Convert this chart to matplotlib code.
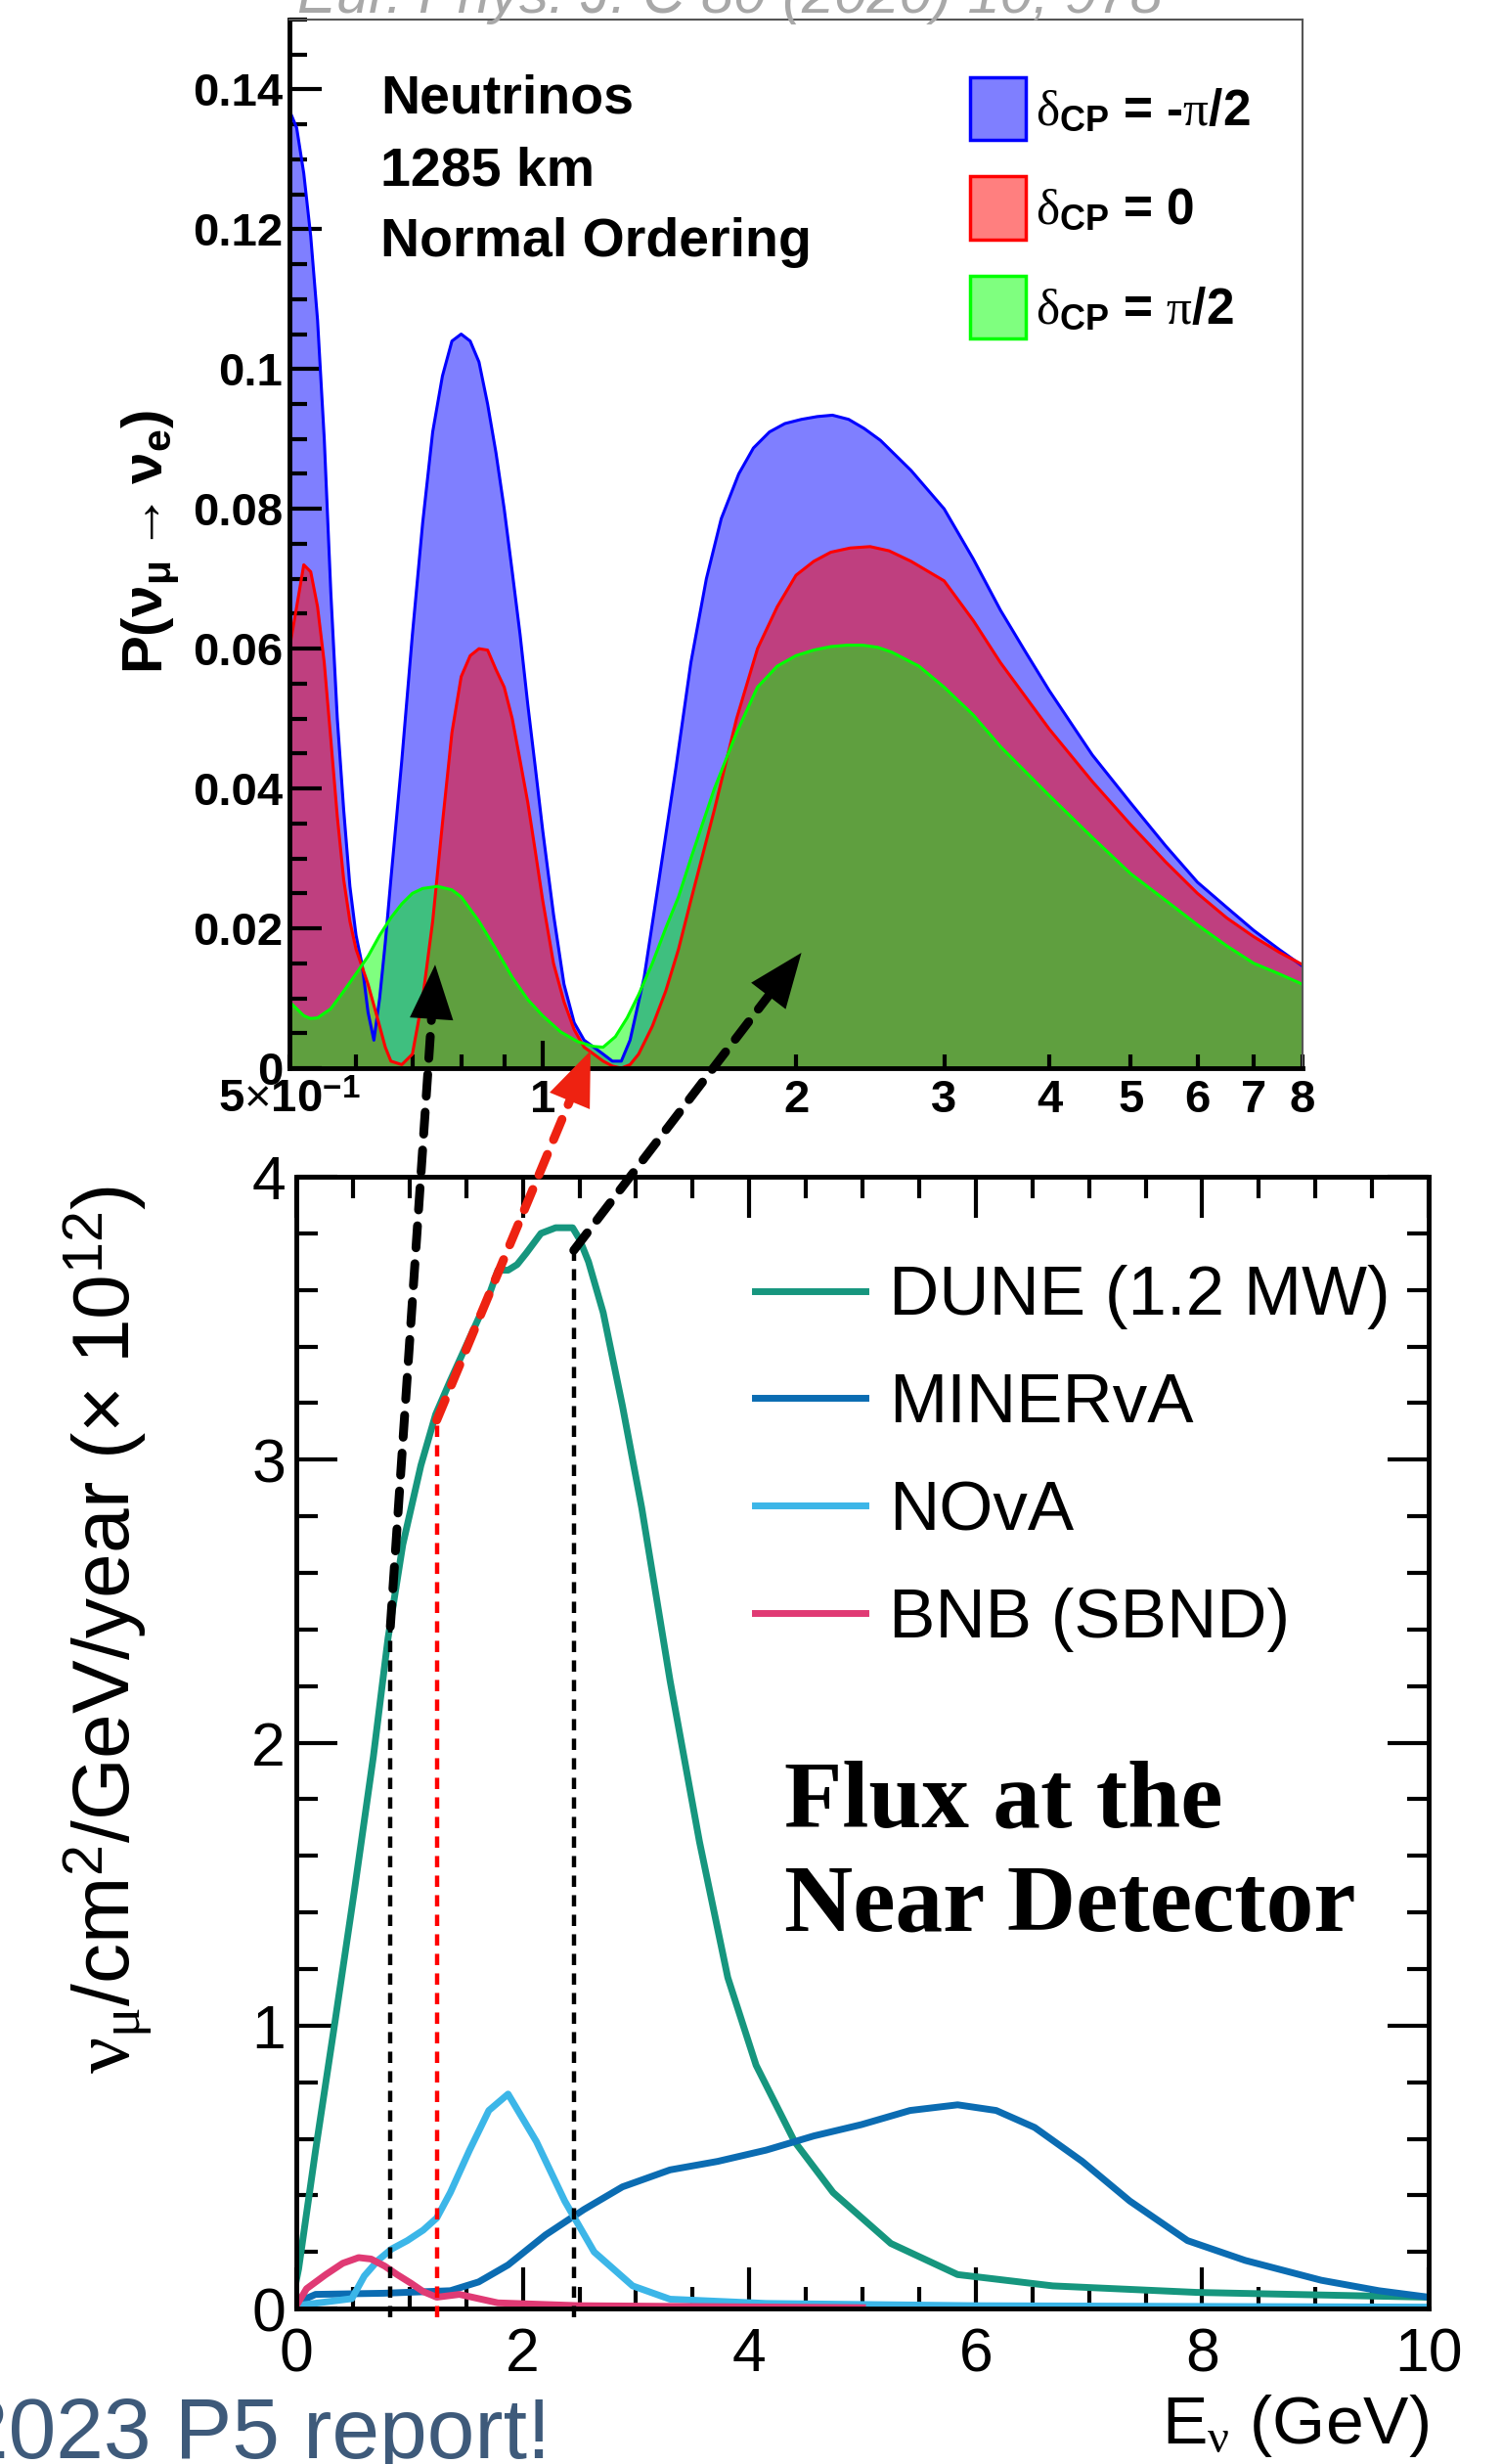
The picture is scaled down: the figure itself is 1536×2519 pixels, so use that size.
import numpy as np
import matplotlib.pyplot as plt
from matplotlib.patches import Patch, ConnectionPatch

plt.rcParams['font.family'] = ['Liberation Sans', 'DejaVu Sans']
plt.rcParams['mathtext.fontset'] = 'custom'
plt.rcParams['mathtext.rm'] = 'Liberation Sans'
plt.rcParams['mathtext.it'] = 'Liberation Serif'
plt.rcParams['mathtext.bf'] = 'Liberation Sans:bold'

# ---- top panel: appearance probability vs energy ----
E_blue = [0.50, 0.51, 0.52, 0.53, 0.54, 0.55, 0.56, 0.57, 0.58, 0.59, 0.60, 0.61, 0.62, 0.63,
          0.64, 0.65, 0.66, 0.68, 0.70, 0.72, 0.74, 0.76, 0.78, 0.80, 0.82, 0.84, 0.86, 0.88,
          0.90, 0.92, 0.94, 0.96, 0.98, 1.00, 1.03, 1.06, 1.09, 1.12, 1.15, 1.18, 1.21, 1.24,
          1.27, 1.32, 1.375, 1.44, 1.50, 1.565, 1.63, 1.71, 1.78, 1.86, 1.94, 2.03, 2.12, 2.21,
          2.31, 2.41, 2.52, 2.74, 3.0, 3.25, 3.5, 3.75, 4.0, 4.5, 5.0, 5.5, 6.0, 6.5, 7.0, 7.5, 8.0]
P_blue = [0.137, 0.1345, 0.128, 0.119, 0.107, 0.090, 0.068, 0.050, 0.037, 0.026, 0.019, 0.0148, 0.008, 0.004,
          0.010, 0.018, 0.027, 0.044, 0.062, 0.078, 0.091, 0.099, 0.104, 0.105, 0.104, 0.101, 0.095, 0.088,
          0.080, 0.071, 0.062, 0.052, 0.043, 0.034, 0.022, 0.012, 0.0065, 0.004, 0.003, 0.002, 0.001, 0.001,
          0.004, 0.013, 0.027, 0.043, 0.058, 0.070, 0.0786, 0.085, 0.0887, 0.091, 0.0922, 0.0928, 0.0932, 0.0934,
          0.0928, 0.0915, 0.0898, 0.0855, 0.0800, 0.0728, 0.0655, 0.0595, 0.0540, 0.0448, 0.0379, 0.0318, 0.0266,
          0.0230, 0.0197, 0.0170, 0.0146]

E_red = [0.50, 0.51, 0.52, 0.53, 0.54, 0.55, 0.56, 0.57, 0.58, 0.59, 0.60, 0.61, 0.62, 0.63,
         0.64, 0.65, 0.66, 0.68, 0.70, 0.72, 0.74, 0.76, 0.78, 0.80, 0.82, 0.84, 0.86, 0.88,
         0.90, 0.92, 0.94, 0.96, 0.98, 1.00, 1.03, 1.06, 1.09, 1.12, 1.15, 1.18, 1.21, 1.24,
         1.27, 1.30, 1.35, 1.40, 1.45, 1.50, 1.60, 1.70, 1.80, 1.90, 2.0, 2.1, 2.2, 2.32, 2.45, 2.58,
         2.74, 3.0, 3.25, 3.5, 4.0, 4.5, 5.0, 5.5, 6.0, 6.5, 7.0, 7.5, 8.0]
P_red = [0.060, 0.066, 0.072, 0.071, 0.066, 0.058, 0.047, 0.036, 0.027, 0.021, 0.017, 0.0145, 0.012, 0.009,
         0.006, 0.003, 0.001, 0.0005, 0.002, 0.010, 0.021, 0.035, 0.048, 0.056, 0.059, 0.060, 0.0598, 0.057,
         0.0545, 0.050, 0.044, 0.038, 0.031, 0.024, 0.015, 0.0095, 0.0055, 0.003, 0.002, 0.001, 0.0003, 0.0,
         0.0005, 0.002, 0.006, 0.011, 0.017, 0.024, 0.037, 0.050, 0.060, 0.066, 0.0705, 0.0725, 0.0738, 0.0744,
         0.0746, 0.0740, 0.0725, 0.0697, 0.064, 0.058, 0.0485, 0.041, 0.0348, 0.0295, 0.025, 0.0215, 0.0188,
         0.0166, 0.0148]

E_green = [0.50, 0.51, 0.52, 0.53, 0.54, 0.56, 0.58, 0.60, 0.62, 0.64, 0.66, 0.68, 0.70, 0.72,
           0.75, 0.78, 0.80, 0.84, 0.88, 0.92, 0.96, 1.00, 1.05, 1.10, 1.15, 1.18, 1.22, 1.26,
           1.30, 1.35, 1.40, 1.45, 1.50, 1.60, 1.70, 1.80, 1.90, 2.0, 2.1, 2.2, 2.3, 2.4, 2.5, 2.6, 2.8,
           3.0, 3.25, 3.5, 4.0, 4.5, 5.0, 5.5, 6.0, 6.5, 7.0, 7.5, 8.0]
P_green = [0.0095, 0.0085, 0.0075, 0.0071, 0.0072, 0.0085, 0.011, 0.0135, 0.016, 0.019, 0.0215, 0.0235, 0.025, 0.0257,
           0.026, 0.0255, 0.0245, 0.021, 0.017, 0.013, 0.0098, 0.0075, 0.0052, 0.0038, 0.0031, 0.0030, 0.0045, 0.0072,
           0.0105, 0.015, 0.020, 0.0245, 0.030, 0.040, 0.048, 0.0545, 0.0575, 0.059, 0.0598, 0.0603, 0.0605, 0.0605,
           0.0602, 0.0595, 0.0575, 0.0545, 0.0505, 0.046, 0.039, 0.033, 0.0278, 0.024, 0.0205, 0.0175, 0.015, 0.0135, 0.012]

delta_labels = [r'$\delta_{\mathbf{CP}}$ = -$\pi$/2', r'$\delta_{\mathbf{CP}}$ = 0', r'$\delta_{\mathbf{CP}}$ = $\pi$/2']
top_xticks = [0.5, 1, 2, 3, 4, 5, 6, 7, 8]
top_xticklabels = [r'5$\times$10$^{\mathbf{-1}}$', '1', '2', '3', '4', '5', '6', '7', '8']

# ---- bottom panel: muon neutrino flux at the near detectors ----
E_dune = [0.0, 0.02, 0.17, 0.34, 0.51, 0.68, 0.81, 0.94, 1.10, 1.23, 1.36, 1.53, 1.70, 1.78, 1.87,
          1.95, 2.03, 2.16, 2.29, 2.44, 2.50, 2.58, 2.71, 2.88, 3.05, 3.30, 3.56, 3.81, 4.06, 4.40,
          4.74, 5.25, 5.84, 6.68, 7.95, 10.0]
F_dune = [0.10, 0.14, 0.56, 1.01, 1.47, 1.95, 2.37, 2.70, 2.98, 3.16, 3.28, 3.43, 3.58, 3.67, 3.67,
          3.69, 3.73, 3.80, 3.82, 3.82, 3.78, 3.70, 3.52, 3.19, 2.83, 2.22, 1.65, 1.17, 0.86, 0.59,
          0.41, 0.23, 0.12, 0.08, 0.057, 0.04]

E_minerva = [0.0, 0.17, 0.77, 1.36, 1.61, 1.87, 2.20, 2.54, 2.88, 3.30, 3.72, 4.15, 4.57, 4.99,
             5.42, 5.84, 6.18, 6.52, 6.94, 7.36, 7.87, 8.38, 9.05, 9.56, 10.0]
F_minerva = [0.02, 0.05, 0.054, 0.063, 0.094, 0.154, 0.26, 0.35, 0.43, 0.49, 0.52, 0.56, 0.61, 0.65,
             0.70, 0.72, 0.70, 0.64, 0.52, 0.38, 0.24, 0.17, 0.10, 0.063, 0.04]

E_nova = [0.0, 0.49, 0.60, 0.72, 0.84, 0.98, 1.12, 1.24, 1.36, 1.53, 1.70, 1.87, 2.12, 2.37, 2.63,
          2.97, 3.30, 4.15, 6.0, 10.0]
F_nova = [0.01, 0.035, 0.115, 0.17, 0.21, 0.24, 0.277, 0.32, 0.41, 0.56, 0.70, 0.758, 0.59, 0.38, 0.20,
          0.08, 0.033, 0.018, 0.01, 0.005]

E_bnb = [0.0, 0.09, 0.26, 0.41, 0.55, 0.66, 0.78, 0.89, 1.01, 1.12, 1.24, 1.44, 1.78, 2.5, 5.0]
F_bnb = [0.01, 0.07, 0.12, 0.16, 0.18, 0.175, 0.15, 0.12, 0.09, 0.06, 0.04, 0.05, 0.02, 0.01, 0.003]

flux_names = ['DUNE (1.2 MW)', 'MINERvA', 'NOvA', 'BNB (SBND)']
flux_colors = ['#16967e', '#0b6cb2', '#3cb6e8', '#e03a74']

# energies picked out in the flux plot and where the arrows land on the probability plot
mark_E = [0.83, 1.24, 2.45]
mark_F = [2.41, 3.14, 3.74]
tip_E = [0.745, 1.14, 2.03]
tip_P = [0.0148, 0.0025, 0.0165]
mark_colors = ['black', '#ee2211', 'black']
vline_colors = ['black', '#ff0000', 'black']

fig = plt.figure(figsize=(15.36, 25.19), dpi=100)
ax_top = fig.add_axes([0.1927, 0.5665, 0.6745, 0.4256])
ax_bot = fig.add_axes([0.1973, 0.0631, 0.7539, 0.4593])

# ---------------- top panel ----------------
for E, P, c in [(E_blue, P_blue, '#0000ff'), (E_red, P_red, '#ff0000'), (E_green, P_green, '#00ff00')]:
    ax_top.fill_between(E, 0, P, color=c, alpha=0.5, lw=0)
    ax_top.plot(E, P, color=c, lw=2.2)

ax_top.set_xscale('log')
ax_top.set_xlim(0.5, 8)
ax_top.set_ylim(0, 0.15)
for s in ['left', 'bottom']:
    ax_top.spines[s].set_linewidth(3.5)
for s in ['top', 'right']:
    ax_top.spines[s].set_linewidth(1.5)
    ax_top.spines[s].set_color('#555555')

ax_top.set_yticks(np.arange(0, 0.141, 0.02))
ax_top.set_yticklabels(['0', '0.02', '0.04', '0.06', '0.08', '0.1', '0.12', '0.14'])
ax_top.set_yticks(np.arange(0, 0.1501, 0.005), minor=True)
ax_top.set_xticks(top_xticks)
ax_top.set_xticklabels(top_xticklabels)
ax_top.set_xticks([0.6, 0.7, 0.8, 0.9], minor=True)
ax_top.xaxis.set_minor_formatter(plt.NullFormatter())
ax_top.tick_params(axis='y', which='major', direction='in', length=24, width=3, pad=5, labelsize=34)
ax_top.tick_params(axis='y', which='minor', direction='in', length=13, width=3)
ax_top.tick_params(axis='x', which='both', direction='in', length=10, width=3, pad=8, labelsize=34)
for lab in ax_top.get_xticklabels() + ax_top.get_yticklabels():
    lab.set_fontweight('bold')
ax_top.xaxis.get_major_ticks()[1].tick1line.set_markersize(20)

ax_top.set_ylabel(r'$\mathbf{P(\nu_{\mu} \rightarrow \nu_{e})}$', fontsize=42)
ax_top.yaxis.set_label_coords(-0.107, 0.502)

for txt, y in zip(['Neutrinos', '1285 km', 'Normal Ordering'], [0.924, 0.855, 0.787]):
    ax_top.text(0.0898, y, txt, transform=ax_top.transAxes, fontsize=40, fontweight='bold', va='center')

handles = [Patch(facecolor=c, edgecolor=e, lw=2.5)
           for c, e in [((0, 0, 1, 0.5), 'blue'), ((1, 0, 0, 0.5), 'red'), ((0, 1, 0, 0.5), '#00ff00')]]
ax_top.legend(handles, delta_labels, loc='upper left', bbox_to_anchor=(0.672, 0.945), frameon=False,
              prop={'size': 37, 'weight': 'bold'}, handlelength=1.1, handleheight=1.55,
              handletextpad=0.2, labelspacing=0.72, borderpad=0, borderaxespad=0)

# journal reference, mostly cut off at the top of the image
fig.text(304 / 1536, 1 - 13 / 2519, 'Eur. Phys. J. C 80 (2020) 10, 978', fontsize=43, style='italic',
         color='#a8a8a8', va='baseline')

# ---------------- bottom panel ----------------
for E, F, c, name in zip([E_dune, E_minerva, E_nova, E_bnb], [F_dune, F_minerva, F_nova, F_bnb],
                         flux_colors, flux_names):
    ax_bot.plot(E, F, color=c, lw=5, label=name)

ax_bot.set_xlim(0, 10)
ax_bot.set_ylim(0, 4)
for s in ax_bot.spines.values():
    s.set_linewidth(3.5)
ax_bot.set_xticks(np.arange(0, 10.1, 2))
ax_bot.set_xticks(np.arange(0, 10.01, 0.5), minor=True)
ax_bot.set_yticks(np.arange(0, 4.1, 1))
ax_bot.set_yticks(np.arange(0, 4.01, 0.2), minor=True)
ax_bot.tick_params(which='both', direction='in', top=True, right=True, width=3, labelsize=45)
ax_bot.tick_params(which='major', length=30)
ax_bot.tick_params(which='minor', length=16)
ax_bot.tick_params(axis='x', pad=13)
ax_bot.tick_params(axis='y', pad=8)

ax_bot.set_ylabel(r'$\nu_{\mu}$/cm$^{2}$/GeV/year ($\times$ 10$^{12}$)', fontsize=59)
ax_bot.yaxis.set_label_coords(-0.125, 0.6)
ax_bot.set_xlabel(r'E$_{\nu}$ (GeV)', fontsize=50, ha='right', va='center')
ax_bot.xaxis.set_label_coords(1.0, -0.104)

ax_bot.legend(loc='upper left', bbox_to_anchor=(0.405, 0.922), frameon=False, fontsize=51,
              handlelength=1.6, handletextpad=0.34, labelspacing=0.62, borderpad=0, borderaxespad=0)

ax_bot.text(0.431, 0.4, 'Flux at the\nNear Detector', transform=ax_bot.transAxes, fontsize=70,
            fontweight='bold', family='Liberation Serif', va='center', linespacing=1.25)

# dotted markers under the flux curve and dashed arrows up to the probability plot
for E0, F0, Et, Pt, c, vc in zip(mark_E, mark_F, tip_E, tip_P, mark_colors, vline_colors):
    ax_bot.plot([E0, E0], [-0.03, F0], color=vc, lw=3.2, ls=(0, (2.6, 1.9)), clip_on=False, zorder=5)
    shaft = ConnectionPatch(xyA=(E0, F0), coordsA=ax_bot.transData, xyB=(Et, Pt), coordsB=ax_top.transData,
                            arrowstyle='-', color=c, lw=6.5, ls=(0, (2.5, 1.8)), shrinkA=0, shrinkB=30)
    head = ConnectionPatch(xyA=(E0, F0), coordsA=ax_bot.transData, xyB=(Et, Pt), coordsB=ax_top.transData,
                           arrowstyle='-|>,head_length=1.0,head_width=0.4', mutation_scale=40,
                           color=c, lw=0, shrinkA=0, shrinkB=0)
    fig.add_artist(shaft)
    fig.add_artist(head)

fig.text(563 / 1536, 6 / 2519, '2023 P5 report!', fontsize=63, color='#3e5a7a', ha='right', va='baseline')

fig.savefig('out.png', dpi=100)
